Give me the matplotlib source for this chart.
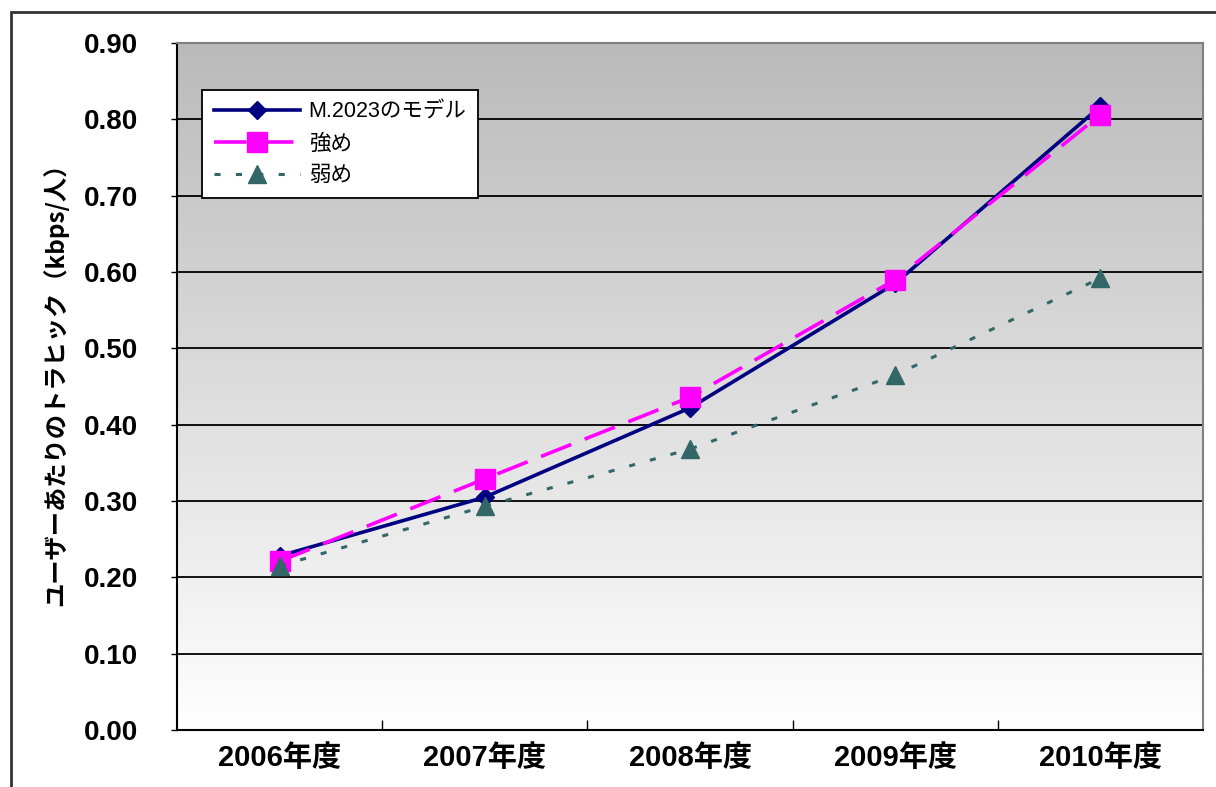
import numpy as np
import matplotlib
matplotlib.use("Agg")
import matplotlib.pyplot as plt
from matplotlib.patches import Rectangle

categories = ["2006年度", "2007年度", "2008年度", "2009年度", "2010年度"]
model_vals = [0.228, 0.305, 0.422, 0.585, 0.817]
strong_vals = [0.221, 0.329, 0.436, 0.590, 0.806]
weak_vals = [0.215, 0.293, 0.368, 0.465, 0.592]
series_names = ["M.2023のモデル", "強め", "弱め"]
yticks = [0.0, 0.1, 0.2, 0.3, 0.4, 0.5, 0.6, 0.7, 0.8, 0.9]
ylabel = "ユーザーあたりのトラヒック（kbps/人）"

W, H = 1216, 787
fig = plt.figure(figsize=(W / 100, H / 100), dpi=100)
fig.patch.set_facecolor("white")

L, R, T, B = 177, 1203, 43, 730
ax = fig.add_axes([L / W, 1 - B / H, (R - L) / W, (B - T) / H])

x = np.arange(len(categories))
ax.set_xlim(-0.5, len(categories) - 0.5)
ax.set_ylim(0, 0.9)

# gradient background
grad = np.linspace(0, 1, 256).reshape(-1, 1)
top_c = np.array([0.73, 0.73, 0.73])
bot_c = np.array([1.0, 1.0, 1.0])
img = bot_c * (1 - grad[..., None]) + top_c * grad[..., None]
img = img.reshape(256, 1, 3)
ax.imshow(img, origin="lower", aspect="auto",
          extent=(-0.5, len(categories) - 0.5, 0, 0.9), zorder=0, interpolation="bilinear")

for yv in yticks[1:-1]:
    ax.axhline(yv, color="black", lw=1.3, zorder=1)

ax.plot(x, model_vals, color="#000080", lw=2.6, marker="D", markersize=9,
        markerfacecolor="#000080", markeredgecolor="#000080", label=series_names[0], zorder=3)
ax.plot(x, strong_vals, color="#ff00ff", lw=2.6, dashes=(9, 4), marker="s", markersize=14,
        markerfacecolor="#ff00ff", markeredgecolor="#ff00ff", label=series_names[1], zorder=4)
ax.plot(x, weak_vals, color="#336666", lw=2.2, dashes=(2, 5), marker="^", markersize=13,
        markerfacecolor="#336666", markeredgecolor="#336666", label=series_names[2], zorder=5)

ax.set_yticks(yticks)
ax.set_yticklabels([f"{v:.2f}" for v in yticks])
ax.set_xticks(x)
ax.set_xticklabels(categories)
ax.set_xticks(np.arange(0.5, len(categories) - 0.5, 1.0), minor=True)

ax.tick_params(axis="y", which="major", direction="out", length=4, width=1, pad=24)
ax.tick_params(axis="x", which="major", length=0, pad=10)
ax.tick_params(axis="x", which="minor", direction="in", length=7, width=1)

for lab in ax.get_yticklabels():
    lab.set_fontfamily(["Liberation Sans", "DejaVu Sans"])
    lab.set_fontweight("bold")
    lab.set_fontsize(20)
for lab in ax.get_xticklabels():
    lab.set_fontfamily(["Liberation Sans", "Noto Sans CJK JP"])
    lab.set_fontweight("bold")
    lab.set_fontsize(21)

for s in ["left", "bottom"]:
    ax.spines[s].set_color("black")
    ax.spines[s].set_linewidth(1.5)
for s in ["top", "right"]:
    ax.spines[s].set_color("#808080")
    ax.spines[s].set_linewidth(1.5)

fig.text(55 / W, 1 - 378 / H, ylabel, rotation=90, ha="center", va="center",
         fontsize=17.5, fontweight="bold", family=["Noto Sans CJK JP", "DejaVu Sans"])

leg = ax.legend(loc="upper left", bbox_to_anchor=((202 - L) / (R - L), (B - 90) / (B - T)),
                borderaxespad=0, frameon=True, fancybox=False, handlelength=4.0,
                labelspacing=0.5, borderpad=0.55, handletextpad=0.4,
                prop={"family": ["Liberation Sans", "Noto Sans CJK JP"], "size": 15.5})
leg.get_frame().set_edgecolor("black")
leg.get_frame().set_linewidth(1.3)
leg.get_frame().set_facecolor("white")
leg.get_frame().set_alpha(1)
leg.set_zorder(10)

# outer chart border
fig.add_artist(Rectangle((11 / W, -0.1), 1.2, (H - 12) / H + 0.1, fill=False,
                         edgecolor="#333333", lw=2, transform=fig.transFigure, clip_on=False))

fig.savefig("out.png", dpi=100)
